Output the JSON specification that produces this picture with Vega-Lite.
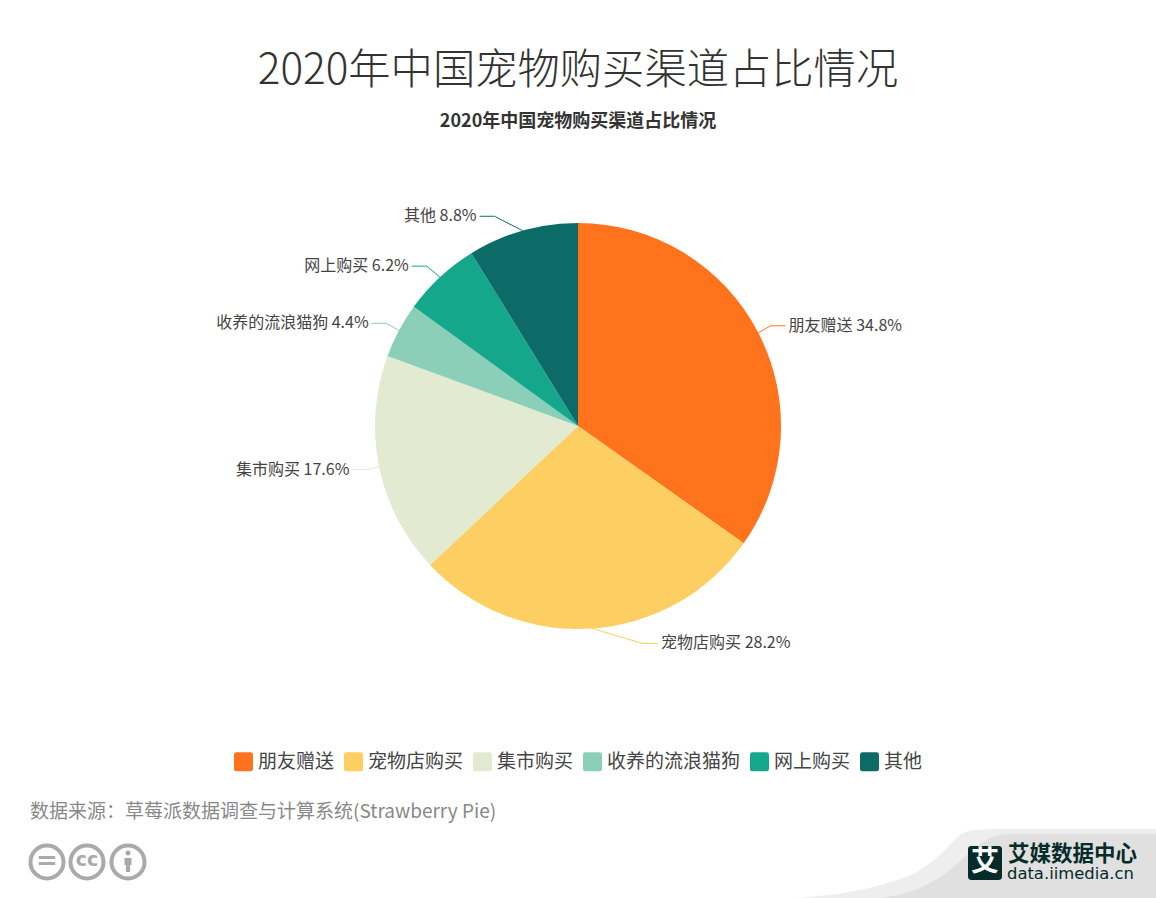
{"$schema":"https://vega.github.io/schema/vega-lite/v6.json","width":1156,"height":852,"autosize":"none","padding":{"top":0,"left":0,"right":0,"bottom":46},"background":"white","config":{"view":{"stroke":null},"axis":{"disable":true},"font":"Noto Sans CJK SC"},"title":{"text":"2020年中国宠物购买渠道占比情况","subtitle":"2020年中国宠物购买渠道占比情况","anchor":"middle","frame":"group","offset":-132,"fontSize":42.3,"fontWeight":300,"color":"#333333","subtitleFontSize":18,"subtitleFontWeight":"bold","subtitleColor":"#333333","subtitlePadding":20,"font":"Noto Sans CJK SC","subtitleFont":"Noto Sans CJK SC"},"data":{"values":[{"name":"朋友赠送","share":34.8},{"name":"宠物店购买","share":28.2},{"name":"集市购买","share":17.6},{"name":"收养的流浪猫狗","share":4.4},{"name":"网上购买","share":6.2},{"name":"其他","share":8.8}]},"transform":[{"stack":"share","groupby":[],"as":["s0","s1"]},{"calculate":"(datum.s0+datum.s1)*PI/100","as":"a"},{"calculate":"578+203*sin(datum.a)","as":"sx"},{"calculate":"426-203*cos(datum.a)","as":"sy"},{"calculate":"578+218*sin(datum.a)+(datum.name==='其他'?-24:datum.name==='宠物店购买'?50:datum.name==='网上购买'?-3:datum.name==='集市购买'?3:datum.name==='收养的流浪猫狗'?1:-1)","as":"ex"},{"calculate":"426-218*cos(datum.a)","as":"ey"},{"calculate":"sin(datum.a)>0?1:-1","as":"side"},{"calculate":"datum.ex+datum.side*15","as":"tx"},{"calculate":"datum.tx+datum.side*3","as":"lx"},{"calculate":"datum.name+' '+format(datum.share,'.1f')+'%'","as":"label"}],"layer":[{"data":{"values":[{"band":"a","x":795,"y":898,"base":898},{"band":"a","x":880,"y":885,"base":898},{"band":"a","x":920,"y":870,"base":898},{"band":"a","x":945,"y":850,"base":898},{"band":"a","x":960,"y":835,"base":898},{"band":"a","x":975,"y":830,"base":898},{"band":"a","x":1000,"y":829,"base":898},{"band":"a","x":1156,"y":829,"base":898}]},"transform":[],"mark":{"type":"area","color":"#eeeeee","interpolate":"monotone"},"encoding":{"x":{"field":"x","type":"quantitative","scale":{"domain":[0,1156],"range":[0,1156],"nice":false}},"y":{"field":"y","type":"quantitative","scale":{"domain":[0,852],"range":[0,852],"nice":false}},"y2":{"field":"base"}}},{"data":{"values":[{"band":"b","x":880,"y":898,"base":898},{"band":"b","x":920,"y":888,"base":898},{"band":"b","x":950,"y":870,"base":898},{"band":"b","x":975,"y":848,"base":898},{"band":"b","x":990,"y":838,"base":898},{"band":"b","x":1010,"y":834,"base":898},{"band":"b","x":1156,"y":834,"base":898}]},"transform":[],"mark":{"type":"area","color":"#e0e0e0","interpolate":"monotone"},"encoding":{"x":{"field":"x","type":"quantitative","scale":{"domain":[0,1156],"range":[0,1156],"nice":false}},"y":{"field":"y","type":"quantitative","scale":{"domain":[0,852],"range":[0,852],"nice":false}},"y2":{"field":"base"}}},{"mark":{"type":"arc","outerRadius":203},"encoding":{"theta":{"field":"s0","type":"quantitative","scale":{"domain":[0,100],"range":[0,6.283185307]}},"theta2":{"field":"s1"},"color":{"field":"name","type":"nominal","scale":{"domain":["朋友赠送","宠物店购买","集市购买","收养的流浪猫狗","网上购买","其他"],"range":["#ff731d","#fdce61","#e2ebd1","#8ccfb9","#14a78b","#0d6b67"]},"legend":{"orient":"none","legendX":234,"legendY":752,"direction":"horizontal","columns":6,"title":null,"padding":0,"labelFontSize":19,"labelColor":"#444444","labelFont":"Noto Sans CJK SC","labelOffset":5,"symbolSize":361,"symbolStrokeWidth":0,"symbolType":"M-0.75,-1H0.75Q1,-1,1,-0.75V0.75Q1,1,0.75,1H-0.75Q-1,1,-1,0.75V-0.75Q-1,-1,-0.75,-1Z","columnPadding":9,"gridAlign":"each"}}}},{"mark":{"type":"rule","strokeWidth":1},"encoding":{"x":{"field":"sx","type":"quantitative","scale":{"domain":[0,1156],"range":[0,1156],"nice":false}},"y":{"field":"sy","type":"quantitative","scale":{"domain":[0,852],"range":[0,852],"nice":false}},"x2":{"field":"ex"},"y2":{"field":"ey"},"color":{"field":"name","type":"nominal","legend":null}}},{"mark":{"type":"rule","strokeWidth":1},"encoding":{"x":{"field":"ex","type":"quantitative","scale":{"domain":[0,1156],"range":[0,1156],"nice":false}},"y":{"field":"ey","type":"quantitative","scale":{"domain":[0,852],"range":[0,852],"nice":false}},"x2":{"field":"tx"},"y2":{"field":"ey"},"color":{"field":"name","type":"nominal","legend":null}}},{"transform":[{"filter":"datum.side>0"}],"mark":{"type":"text","align":"left","baseline":"middle","fontSize":16,"color":"#444444"},"encoding":{"x":{"field":"lx","type":"quantitative","scale":{"domain":[0,1156],"range":[0,1156],"nice":false}},"y":{"field":"ey","type":"quantitative","scale":{"domain":[0,852],"range":[0,852],"nice":false}},"text":{"field":"label"}}},{"transform":[{"filter":"datum.side<0"}],"mark":{"type":"text","align":"right","baseline":"middle","fontSize":16,"color":"#444444"},"encoding":{"x":{"field":"lx","type":"quantitative","scale":{"domain":[0,1156],"range":[0,1156],"nice":false}},"y":{"field":"ey","type":"quantitative","scale":{"domain":[0,852],"range":[0,852],"nice":false}},"text":{"field":"label"}}},{"data":{"values":[{"t":"数据来源：草莓派数据调查与计算系统(Strawberry Pie)"}]},"transform":[],"mark":{"type":"text","align":"left","baseline":"middle","fontSize":19,"color":"#888888"},"encoding":{"x":{"datum":30,"type":"quantitative","scale":{"domain":[0,1156],"range":[0,1156],"nice":false}},"y":{"datum":812,"type":"quantitative","scale":{"domain":[0,852],"range":[0,852],"nice":false}},"text":{"field":"t"}}},{"data":{"values":[{"x":47,"y":862},{"x":87,"y":862},{"x":128,"y":862}]},"transform":[],"mark":{"type":"point","shape":"circle","filled":false,"stroke":"#aaaaaa","strokeWidth":4,"size":1090,"opacity":1},"encoding":{"x":{"field":"x","type":"quantitative","scale":{"domain":[0,1156],"range":[0,1156],"nice":false}},"y":{"field":"y","type":"quantitative","scale":{"domain":[0,852],"range":[0,852],"nice":false}}}},{"data":{"values":[{"t":"="}]},"transform":[],"mark":{"type":"text","align":"center","baseline":"middle","fontSize":26,"fontWeight":"bold","color":"#aaaaaa","font":"DejaVu Sans"},"encoding":{"x":{"datum":47,"type":"quantitative","scale":{"domain":[0,1156],"range":[0,1156],"nice":false}},"y":{"datum":861,"type":"quantitative","scale":{"domain":[0,852],"range":[0,852],"nice":false}},"text":{"field":"t"}}},{"data":{"values":[{"t":"cc"}]},"transform":[],"mark":{"type":"text","align":"center","baseline":"middle","fontSize":19,"fontWeight":"bold","color":"#aaaaaa","font":"DejaVu Sans"},"encoding":{"x":{"datum":87,"type":"quantitative","scale":{"domain":[0,1156],"range":[0,1156],"nice":false}},"y":{"datum":860,"type":"quantitative","scale":{"domain":[0,852],"range":[0,852],"nice":false}},"text":{"field":"t"}}},{"data":{"values":[{"x":128,"y":853}]},"transform":[],"mark":{"type":"point","shape":"circle","filled":true,"fill":"#aaaaaa","opacity":1,"size":25},"encoding":{"x":{"field":"x","type":"quantitative","scale":{"domain":[0,1156],"range":[0,1156],"nice":false}},"y":{"field":"y","type":"quantitative","scale":{"domain":[0,852],"range":[0,852],"nice":false}}}},{"data":{"values":[{"x":128,"y":865}]},"transform":[],"mark":{"type":"point","shape":"M-0.5,-1H0.5V0H0.3V1H-0.3V0H-0.5Z","filled":true,"fill":"#aaaaaa","opacity":1,"size":196},"encoding":{"x":{"field":"x","type":"quantitative","scale":{"domain":[0,1156],"range":[0,1156],"nice":false}},"y":{"field":"y","type":"quantitative","scale":{"domain":[0,852],"range":[0,852],"nice":false}}}},{"data":{"values":[{"x":985,"y":863}]},"transform":[],"mark":{"type":"point","shape":"M-0.8,-1H0.8Q1,-1,1,-0.8V0.8Q1,1,0.8,1H-0.8Q-1,1,-1,0.8V-0.8Q-1,-1,-0.8,-1Z","filled":true,"fill":"#062b28","opacity":1,"size":1156},"encoding":{"x":{"field":"x","type":"quantitative","scale":{"domain":[0,1156],"range":[0,1156],"nice":false}},"y":{"field":"y","type":"quantitative","scale":{"domain":[0,852],"range":[0,852],"nice":false}}}},{"data":{"values":[{"t":"艾"}]},"transform":[],"mark":{"type":"text","align":"center","baseline":"middle","fontSize":28,"fontWeight":"bold","color":"#ffffff"},"encoding":{"x":{"datum":985,"type":"quantitative","scale":{"domain":[0,1156],"range":[0,1156],"nice":false}},"y":{"datum":863,"type":"quantitative","scale":{"domain":[0,852],"range":[0,852],"nice":false}},"text":{"field":"t"}}},{"data":{"values":[{"t":"艾媒数据中心"}]},"transform":[],"mark":{"type":"text","align":"left","baseline":"middle","fontSize":21.5,"fontWeight":"bold","color":"#062b28"},"encoding":{"x":{"datum":1008,"type":"quantitative","scale":{"domain":[0,1156],"range":[0,1156],"nice":false}},"y":{"datum":855,"type":"quantitative","scale":{"domain":[0,852],"range":[0,852],"nice":false}},"text":{"field":"t"}}},{"data":{"values":[{"t":"data.iimedia.cn"}]},"transform":[],"mark":{"type":"text","align":"left","baseline":"middle","fontSize":16.4,"color":"#062b28","font":"DejaVu Sans"},"encoding":{"x":{"datum":1007,"type":"quantitative","scale":{"domain":[0,1156],"range":[0,1156],"nice":false}},"y":{"datum":874,"type":"quantitative","scale":{"domain":[0,852],"range":[0,852],"nice":false}},"text":{"field":"t"}}}]}
